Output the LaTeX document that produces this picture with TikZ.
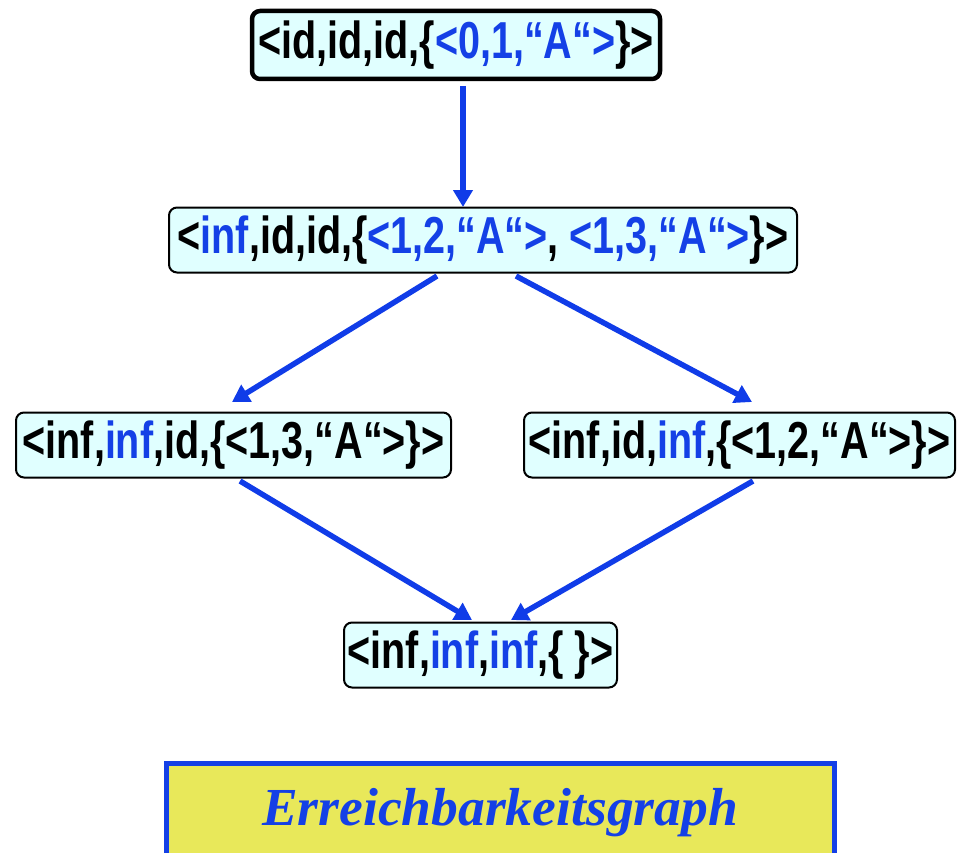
\documentclass[tikz,border=0pt]{standalone}
\usepackage{fontspec}
\setmainfont{Liberation Sans}[FakeStretch=0.76]
\newfontfamily\labelfont{Liberation Serif}
\usetikzlibrary{arrows.meta}
\definecolor{nodefill}{HTML}{E0FFFF}
\definecolor{txtblue}{HTML}{1440E6}
\definecolor{arrblue}{HTML}{103CE8}
\definecolor{labfill}{HTML}{E8E85A}
\newcommand{\bl}[1]{\textcolor{txtblue}{#1}}
\tikzset{
  state/.style={draw=black, line width=2pt, fill=nodefill, rounded corners=8pt,
    inner sep=0pt, minimum height=65pt, font=\fontsize{52}{52}\selectfont\bfseries},
  startstate/.style={state, line width=4.5pt},
  edge/.style={draw=arrblue, line width=5.5pt, -{Triangle[length=17pt,width=19pt]}},
  caption/.style={draw=txtblue, line width=5pt, fill=labfill, inner sep=0pt,
    font=\fontsize{53.5}{53.5}\selectfont\labelfont\bfseries\itshape, text=txtblue}
}
\begin{document}
\begin{tikzpicture}[x=1pt,y=-1pt]
\useasboundingbox (0,0) rectangle (960,853);
\node[startstate, minimum width=408pt, minimum height=68pt] (s0) at (456,45) {<id,id,id,\{\bl{<0,1,“A“>}\}>};
\node[state, minimum width=628pt] (s1) at (483,240) {<\bl{inf},id,id,\{\bl{<1,2,“A“>}, \bl{<1,3,“A“>}\}>};
\node[state, minimum width=435pt] (s2) at (233.5,445) {<inf,\bl{inf},id,\{<1,3,“A“>\}>};
\node[state, minimum width=431pt] (s3) at (739.5,445) {<inf,id,\bl{inf},\{<1,2,“A“>\}>};
\node[state, minimum width=273pt] (s4) at (480.5,655) {<inf,\bl{inf},\bl{inf},\{ \}>};
\node[caption, minimum width=668pt, minimum height=100pt] (cap) at (500,813) {Erreichbarkeitsgraph};
\coordinate (a0) at (463,86);
\coordinate (b0) at (463,207);
\draw[edge] (a0) -- (b0);
\coordinate (a1) at (437,276);
\coordinate (b1) at (232,402);
\draw[edge] (a1) -- (b1);
\coordinate (a2) at (516,276);
\coordinate (b2) at (752,402);
\draw[edge] (a2) -- (b2);
\coordinate (a3) at (240,481);
\coordinate (b3) at (472,620);
\draw[edge] (a3) -- (b3);
\coordinate (a4) at (753,481);
\coordinate (b4) at (511,620);
\draw[edge] (a4) -- (b4);
\end{tikzpicture}
\end{document}
